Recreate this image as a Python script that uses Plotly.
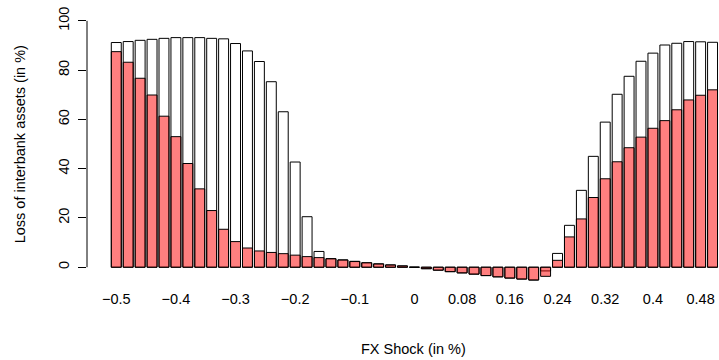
import plotly.graph_objects as go

# FX shock grid (in %), one bar per shock level
shocks = [-0.50, -0.48, -0.46, -0.44, -0.42, -0.40, -0.38, -0.36, -0.34, -0.32,
          -0.30, -0.28, -0.26, -0.24, -0.22, -0.20, -0.18, -0.16, -0.14, -0.12,
          -0.10, -0.08, -0.06, -0.04, -0.02, 0.00, 0.02, 0.04, 0.06, 0.08,
          0.10, 0.12, 0.14, 0.16, 0.18, 0.20, 0.22, 0.24, 0.26, 0.28,
          0.30, 0.32, 0.34, 0.36, 0.38, 0.40, 0.42, 0.44, 0.46, 0.48, 0.50]

# Loss of interbank assets (in %), outlined series
loss_total = [91.2, 91.6, 92.1, 92.5, 92.9, 93.2, 93.2, 93.2, 92.9, 92.7,
              90.8, 87.8, 83.5, 75.3, 63.1, 42.7, 20.5, 6.4, 3.5, 3.0,
              2.4, 1.8, 1.4, 0.95, 0.55, 0.0, -0.6, -1.2, -1.8, -2.3,
              -2.8, -3.4, -3.9, -4.4, -4.8, -5.2, -1.5, 5.6, 17.0, 31.2,
              45.0, 58.9, 70.2, 77.5, 83.6, 86.9, 90.2, 90.9, 91.6, 91.5, 91.3]

# Loss of interbank assets (in %), shaded series
loss_shaded = [87.5, 83.2, 76.7, 69.9, 61.3, 53.0, 42.1, 31.8, 23.0, 15.4,
               10.4, 7.8, 6.6, 6.0, 5.5, 4.9, 4.3, 3.9, 3.4, 2.9,
               2.3, 1.8, 1.3, 0.9, 0.5, 0.0, -0.6, -1.2, -1.8, -2.3,
               -2.8, -3.4, -3.9, -4.4, -4.8, -5.2, -3.7, 2.8, 12.3, 19.6,
               28.3, 35.9, 42.8, 48.5, 52.8, 56.4, 59.5, 63.9, 67.9, 69.8, 72.0]

tick_vals = [-0.5, -0.4, -0.3, -0.2, -0.1, 0.0, 0.08, 0.16, 0.24, 0.32, 0.40, 0.48]
tick_text = ["\u22120.5", "\u22120.4", "\u22120.3", "\u22120.2", "\u22120.1", "0",
             "0.08", "0.16", "0.24", "0.32", "0.4", "0.48"]
y_ticks = [0, 20, 40, 60, 80, 100]

FONT = "Liberation Sans, Arial, Helvetica, sans-serif"
FS = 14.5
bar_w = 0.02 / 1.2

# plot-area geometry (pixels)
L, R, T, B = 86.7, 0, 11.2, 78.2
W, H = 719, 360
pw, ph = W - L - R, H - T - B


def px_x(x):
    return (x - L) / pw


def px_y(y):
    return (H - B - y) / ph


fig = go.Figure()
fig.add_trace(go.Bar(
    x=shocks, y=loss_total, width=bar_w,
    marker=dict(color="white", line=dict(color="black", width=1)),
    showlegend=False,
))
fig.add_trace(go.Bar(
    x=shocks, y=loss_shaded, width=bar_w,
    marker=dict(color="rgba(255,0,0,0.5)", line=dict(color="black", width=1)),
    showlegend=False,
))

fig.update_layout(
    width=W, height=H,
    barmode="overlay",
    plot_bgcolor="white", paper_bgcolor="white",
    margin=dict(l=L, r=R, t=T, b=B),
    font=dict(family=FONT, size=FS, color="black"),
    xaxis=dict(
        range=[-0.5491, 0.5108],
        tickmode="array", tickvals=tick_vals, ticktext=tick_text,
        ticks="outside", ticklen=4, tickcolor="rgba(0,0,0,0)",
        showline=False, showgrid=False, zeroline=False,
        tickfont=dict(family=FONT, size=FS),
    ),
    yaxis=dict(
        range=[-6, 104],
        tickmode="array", tickvals=y_ticks,
        ticks="outside", ticklen=8.5, tickwidth=1, tickcolor="black",
        tickangle=-90, ticklabelstandoff=3,
        showline=False, showgrid=False, zeroline=False,
        tickfont=dict(family=FONT, size=FS),
    ),
    shapes=[dict(type="line", xref="paper", yref="y",
                 x0=0, x1=0, y0=0, y1=100,
                 line=dict(color="black", width=1))],
    annotations=[
        dict(text="FX Shock (in %)", xref="paper", yref="paper",
             x=px_x(413), y=px_y(349),
             xanchor="center", yanchor="middle", showarrow=False,
             font=dict(family=FONT, size=FS)),
        dict(text="Loss of interbank assets (in %)", xref="paper", yref="paper",
             x=px_x(20), y=px_y(144),
             xanchor="center", yanchor="middle", textangle=-90, showarrow=False,
             font=dict(family=FONT, size=FS)),
    ],
)

fig.write_html("out.html")
